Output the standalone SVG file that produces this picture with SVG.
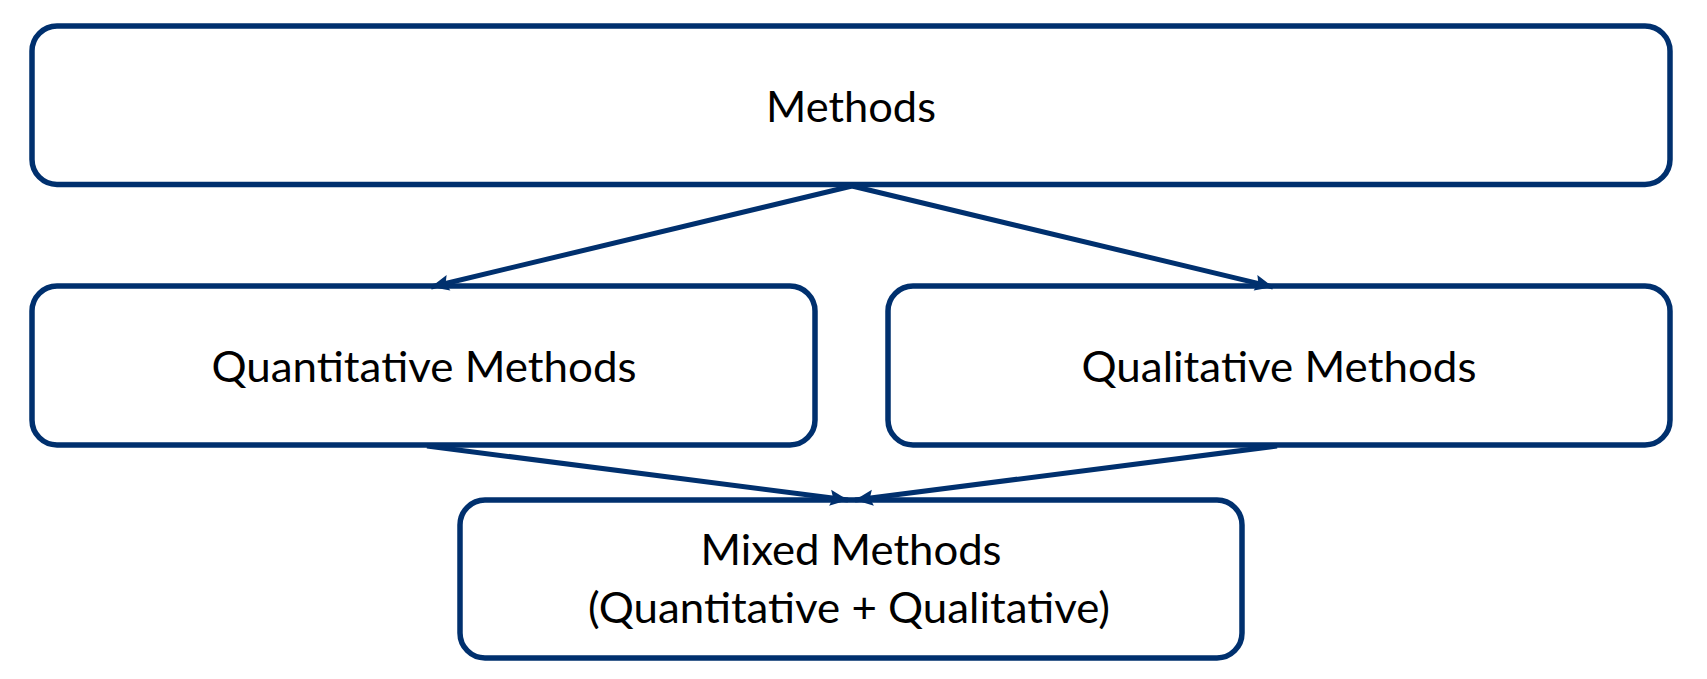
<svg xmlns="http://www.w3.org/2000/svg" width="1707" height="679" viewBox="0 0 1707 679">
<style>
.box{fill:#ffffff;stroke:#00306E;stroke-width:5.5}
.lbl{font-family:Lato,"Open Sans","Liberation Sans",sans-serif;font-size:43px;fill:#000000;text-anchor:middle}
.conn{stroke:#00306E;stroke-width:5;fill:none}
</style>
<defs>
<marker id="ah" markerUnits="userSpaceOnUse" markerWidth="22" markerHeight="22" viewBox="0 0 22 22" refX="20" refY="11" orient="auto">
<path d="M2,3 L20,11 L2,19 L5,11 Z" fill="#00306E"/>
</marker>
</defs>
<rect width="1707" height="679" fill="#ffffff"/>
<g id="node-methods">
<rect class="box" x="32" y="26" width="1638" height="158.5" rx="25" ry="25"/>
<text class="lbl" x="851" y="122" textLength="170" lengthAdjust="spacingAndGlyphs">Methods</text>
</g>
<g id="node-quantitative">
<rect class="box" x="32" y="286" width="783" height="159" rx="25" ry="25"/>
<text class="lbl" x="424" y="382" textLength="425" lengthAdjust="spacingAndGlyphs">Quantitative Methods</text>
</g>
<g id="node-qualitative">
<rect class="box" x="888" y="286" width="782" height="159" rx="25" ry="25"/>
<text class="lbl" x="1279" y="382" textLength="395" lengthAdjust="spacingAndGlyphs">Qualitative Methods</text>
</g>
<g id="node-mixed">
<rect class="box" x="460" y="500" width="782" height="158" rx="25" ry="25"/>
<text class="lbl" x="851" y="565" textLength="301" lengthAdjust="spacingAndGlyphs">Mixed Methods</text>
<text class="lbl" x="849" y="623" textLength="522" lengthAdjust="spacingAndGlyphs">(Quantitative + Qualitative)</text>
</g>
<g id="connectors">
<line class="conn" x1="852" y1="186" x2="431" y2="287" marker-end="url(#ah)"/>
<line class="conn" x1="852" y1="186" x2="1273" y2="287" marker-end="url(#ah)"/>
<line class="conn" x1="427" y1="446" x2="848" y2="500" marker-end="url(#ah)"/>
<line class="conn" x1="1277" y1="446" x2="855" y2="500" marker-end="url(#ah)"/>
</g>
</svg>
